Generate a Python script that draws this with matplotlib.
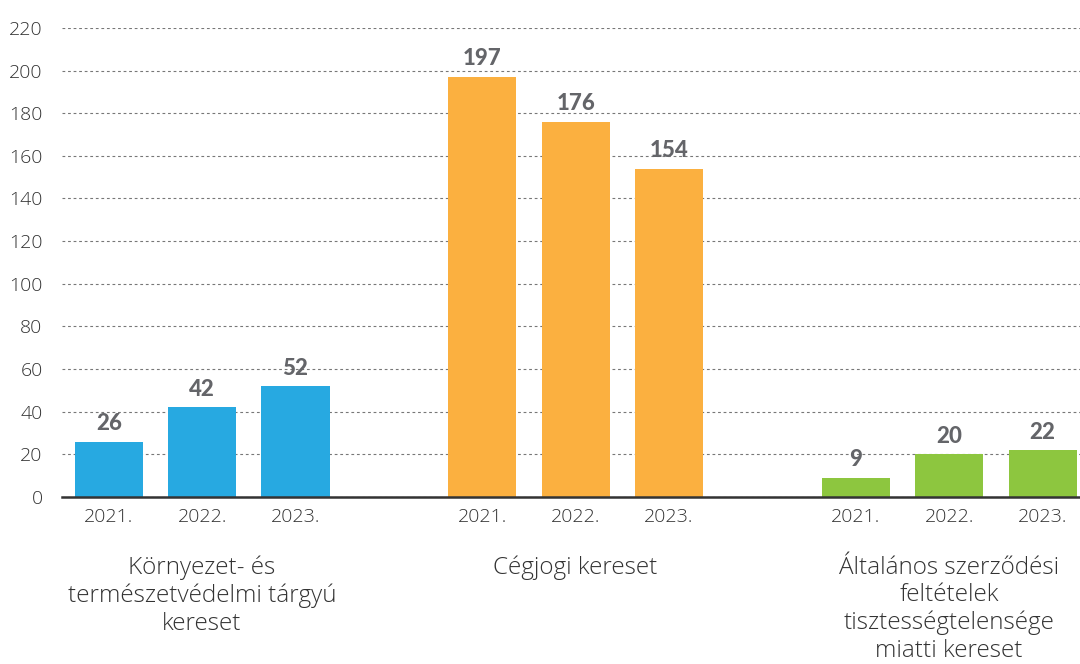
import matplotlib.pyplot as plt

plt.rcParams["font.family"] = ["Open Sans", "DejaVu Sans"]

categories = [
    "Környezet- és\ntermészetvédelmi tárgyú\nkereset",
    "Cégjogi kereset",
    "Általános szerződési\nfeltételek\ntisztességtelensége\nmiatti kereset",
]
years = ["2021.", "2022.", "2023."]
env_cases = [26, 42, 52]
company_cases = [197, 176, 154]
contract_cases = [9, 20, 22]
colors = ["#27A9E1", "#FBB040", "#8DC63F"]

fig = plt.figure(figsize=(10.8, 6.64), dpi=100)
ax = fig.add_axes([0.0574, 0.2515, 0.9426, 0.7065])

groups = [env_cases, company_cases, contract_cases]
tick_pos, tick_lab = [], []
for g, (vals, col) in enumerate(zip(groups, colors)):
    xs = [g * 4 + i for i in range(len(vals))]
    ax.bar(xs, vals, width=0.73, color=col, zorder=3)
    for x, v in zip(xs, vals):
        ax.text(x, v + 3.5, str(v), ha="center", va="bottom", fontsize=16,
                fontweight="black", color="#646569", family=["Lato", "DejaVu Sans"],
                zorder=4)
    tick_pos += xs
    tick_lab += years
    ax.text(g * 4 + 1, -0.125, categories[g], transform=ax.get_xaxis_transform(),
            ha="center", va="top", fontsize=17.5, fontweight="light",
            color="#333333", linespacing=1.2)

ax.set_xlim(-0.5, 10.4)
ax.set_ylim(0, 220)
ax.set_yticks(range(0, 221, 20))
ax.set_xticks(tick_pos)
ax.set_xticklabels(tick_lab)
ax.tick_params(axis="both", length=0, labelsize=14, colors="#333333")
ax.tick_params(axis="x", pad=8)
ax.tick_params(axis="y", pad=14)
for lab in ax.get_xticklabels() + ax.get_yticklabels():
    lab.set_fontweight("light")

ax.grid(axis="y", linestyle=(0, (2.5, 2.5)), linewidth=0.8, color="#777777", zorder=0)
for s in ["top", "right", "left"]:
    ax.spines[s].set_visible(False)
ax.spines["bottom"].set_color("#333333")
ax.spines["bottom"].set_linewidth(1.8)
ax.spines["bottom"].set_zorder(5)

fig.savefig("out.png", dpi=100)
